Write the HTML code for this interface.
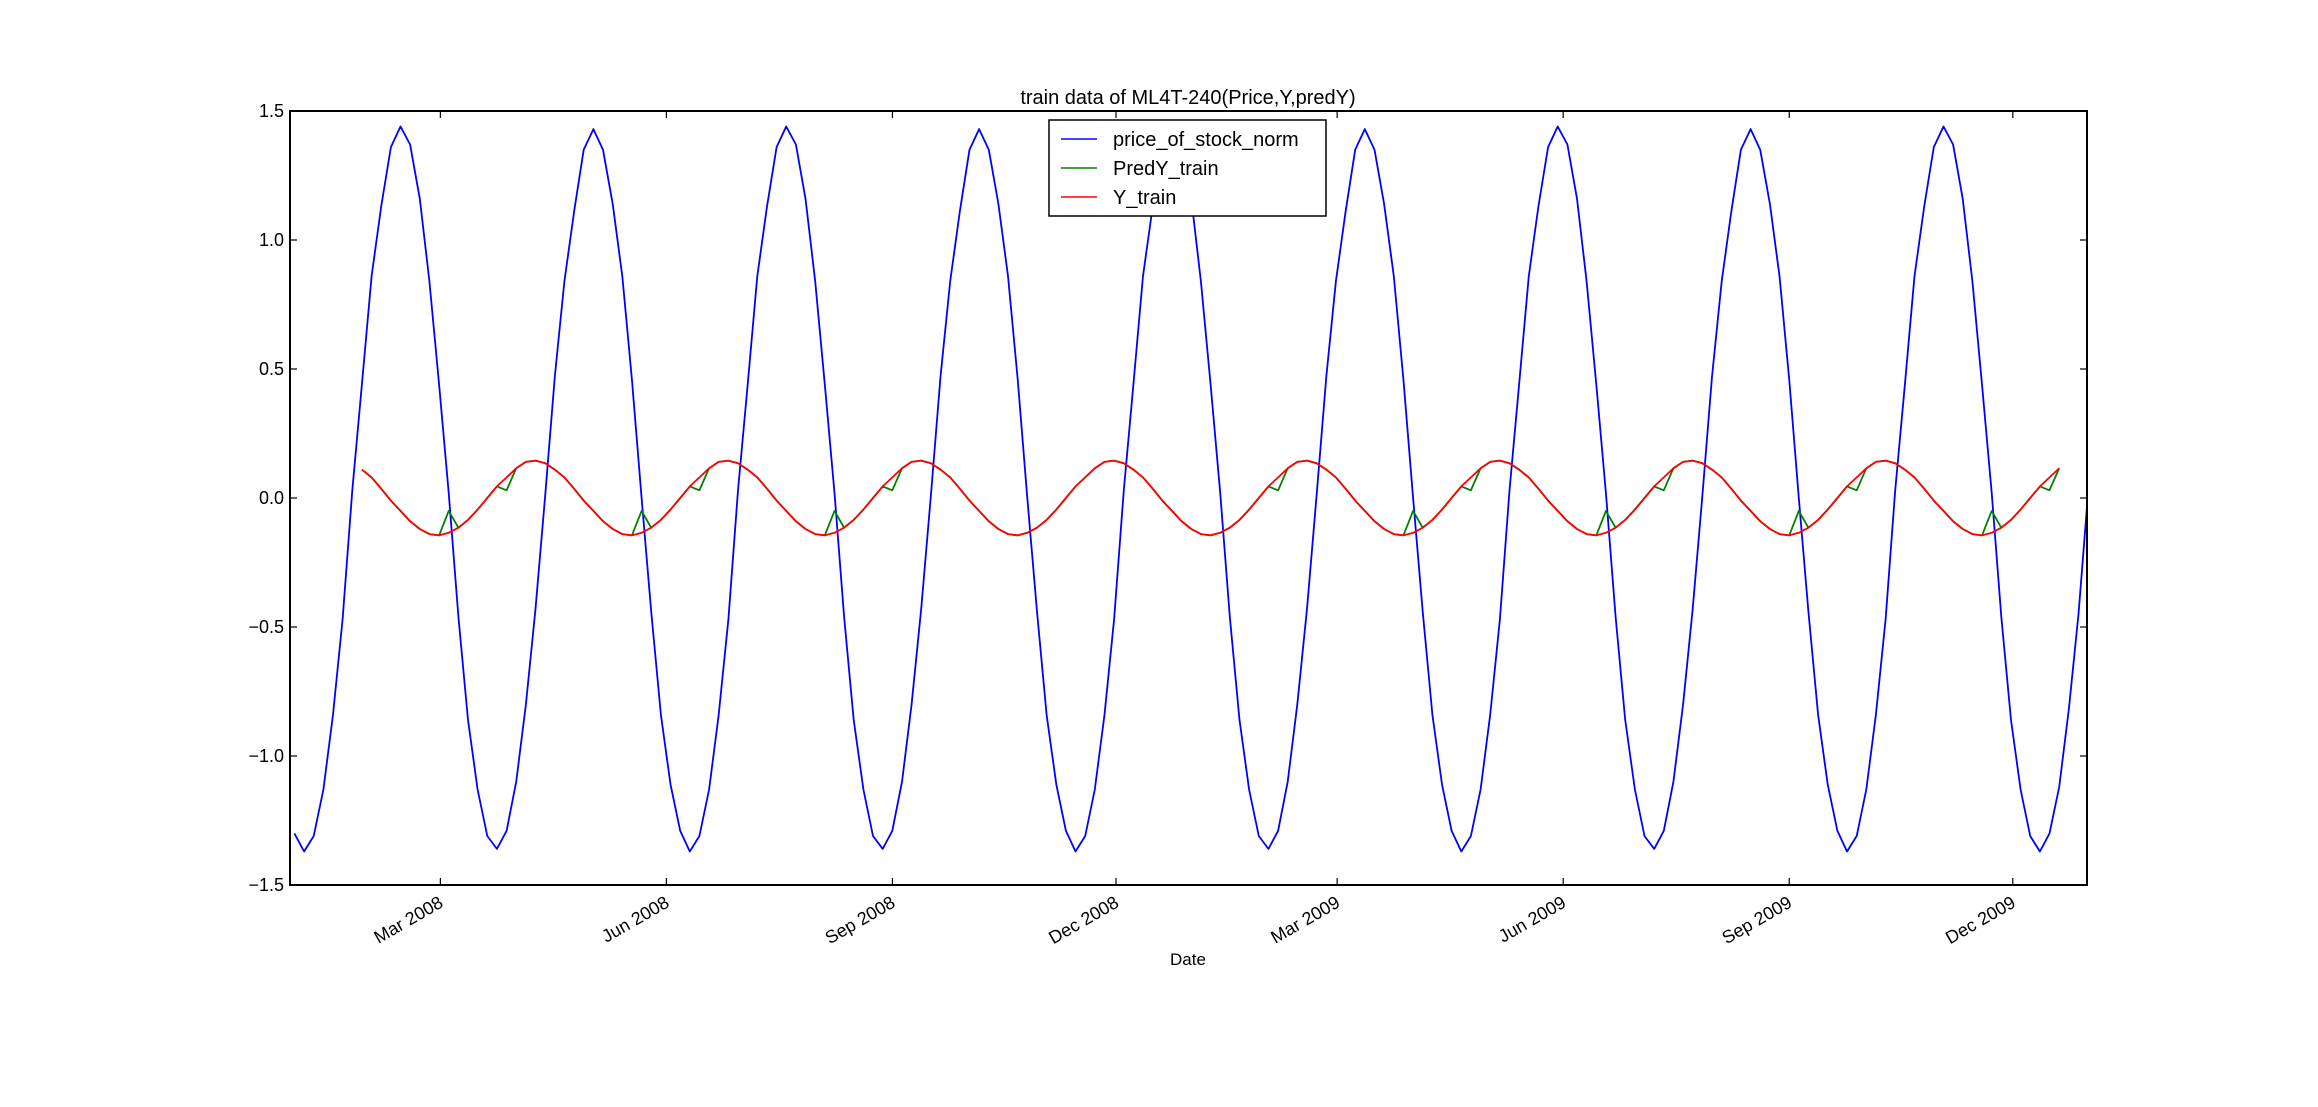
<!DOCTYPE html>
<html><head><meta charset="utf-8"><style>
html,body{margin:0;padding:0;background:#fff;}
svg{display:block;font-family:"Liberation Sans","DejaVu Sans",sans-serif;}
</style></head><body>
<svg id="chart" width="2318" height="1107" viewBox="0 0 2318 1107" xmlns="http://www.w3.org/2000/svg">
<rect x="0" y="0" width="2318" height="1107" fill="#fff"/>
<defs><clipPath id="plotclip"><rect x="290" y="111" width="1797" height="774"/></clipPath></defs>
<text x="1188" y="104" font-size="20" text-anchor="middle">train data of ML4T-240(Price,Y,predY)</text>
<g id="series" clip-path="url(#plotclip)"></g>
<rect x="290" y="111" width="1797" height="774" fill="none" stroke="#000" stroke-width="2"/>
<g id="axes"></g>
<text x="1188" y="965" font-size="17" text-anchor="middle">Date</text>
<g>
<rect x="1049" y="120" width="277" height="96" fill="#fff" stroke="#000" stroke-width="1.5"/>
<g><line x1="1061" y1="139" x2="1097" y2="139" stroke="#0000ff" stroke-width="1.6"/><text x="1113" y="146" font-size="20">price_of_stock_norm</text></g>
<g><line x1="1061" y1="168" x2="1097" y2="168" stroke="#008000" stroke-width="1.6"/><text x="1113" y="175" font-size="20">PredY_train</text></g>
<g><line x1="1061" y1="197" x2="1097" y2="197" stroke="#ff0000" stroke-width="1.6"/><text x="1113" y="204" font-size="20">Y_train</text></g>
</g>
</svg>
<script>
// data: values sampled every sampleStepDays starting at firstSampleDay (days since 2008-01-01)
const firstSampleDay = 0.6;
const sampleStepDays = 3.925;
const priceNorm = [-1.30,
-1.37,-1.31,-1.13,-0.84,-0.47,0.03,0.44,0.86,1.13,1.36,1.44,1.37,1.16,0.84,0.44,0.02,-0.46,-0.86,-1.13,-1.31,
-1.36,-1.29,-1.10,-0.80,-0.43,0.01,0.47,0.84,1.11,1.35,1.43,1.35,1.14,0.86,0.46,0.00,-0.44,-0.84,-1.11,-1.29,
-1.37,-1.31,-1.13,-0.84,-0.47,0.03,0.44,0.86,1.13,1.36,1.44,1.37,1.16,0.84,0.44,0.02,-0.46,-0.86,-1.13,-1.31,
-1.36,-1.29,-1.10,-0.80,-0.43,0.01,0.47,0.84,1.11,1.35,1.43,1.35,1.14,0.86,0.46,0.00,-0.44,-0.84,-1.11,-1.29,
-1.37,-1.31,-1.13,-0.84,-0.47,0.03,0.44,0.86,1.13,1.36,1.44,1.37,1.16,0.84,0.44,0.02,-0.46,-0.86,-1.13,-1.31,
-1.36,-1.29,-1.10,-0.80,-0.43,0.01,0.47,0.84,1.11,1.35,1.43,1.35,1.14,0.86,0.46,0.00,-0.44,-0.84,-1.11,-1.29,
-1.37,-1.31,-1.13,-0.84,-0.47,0.03,0.44,0.86,1.13,1.36,1.44,1.37,1.16,0.84,0.44,0.02,-0.46,-0.86,-1.13,-1.31,
-1.36,-1.29,-1.10,-0.80,-0.43,0.01,0.47,0.84,1.11,1.35,1.43,1.35,1.14,0.86,0.46,0.00,-0.44,-0.84,-1.11,-1.29,
-1.37,-1.31,-1.13,-0.84,-0.47,0.03,0.44,0.86,1.13,1.36,1.44,1.37,1.16,0.84,0.44,0.02,-0.46,-0.86,-1.13,-1.31,
-1.37,-1.30,-1.12,-0.82,-0.45,0.02];
const yStartIndex = 7;
const yTrain = [0.11,0.08,0.036,-0.01,-0.05,-0.09,-0.12,-0.14,-0.145,-0.135,-0.115,-0.085,-0.045,0.0,
0.045,0.08,0.115,0.14,0.145,0.135,0.11,0.08,0.036,-0.01,-0.05,-0.09,-0.12,-0.14,-0.145,-0.135,-0.115,-0.085,-0.045,0.0,
0.045,0.08,0.115,0.14,0.145,0.135,0.11,0.08,0.036,-0.01,-0.05,-0.09,-0.12,-0.14,-0.145,-0.135,-0.115,-0.085,-0.045,0.0,
0.045,0.08,0.115,0.14,0.145,0.135,0.11,0.08,0.036,-0.01,-0.05,-0.09,-0.12,-0.14,-0.145,-0.135,-0.115,-0.085,-0.045,0.0,
0.045,0.08,0.115,0.14,0.145,0.135,0.11,0.08,0.036,-0.01,-0.05,-0.09,-0.12,-0.14,-0.145,-0.135,-0.115,-0.085,-0.045,0.0,
0.045,0.08,0.115,0.14,0.145,0.135,0.11,0.08,0.036,-0.01,-0.05,-0.09,-0.12,-0.14,-0.145,-0.135,-0.115,-0.085,-0.045,0.0,
0.045,0.08,0.115,0.14,0.145,0.135,0.11,0.08,0.036,-0.01,-0.05,-0.09,-0.12,-0.14,-0.145,-0.135,-0.115,-0.085,-0.045,0.0,
0.045,0.08,0.115,0.14,0.145,0.135,0.11,0.08,0.036,-0.01,-0.05,-0.09,-0.12,-0.14,-0.145,-0.135,-0.115,-0.085,-0.045,0.0,
0.045,0.08,0.115,0.14,0.145,0.135,0.11,0.08,0.036,-0.01,-0.05,-0.09,-0.12,-0.14,-0.145,-0.135,-0.115,-0.085,-0.045,0.0,
0.045,0.08,0.115];
const predYTrain = [0.11,0.08,0.036,-0.01,-0.05,-0.09,-0.12,-0.14,-0.145,-0.05,-0.115,-0.085,-0.045,0.0,
0.045,0.03,0.115,0.14,0.145,0.135,0.11,0.08,0.036,-0.01,-0.05,-0.09,-0.12,-0.14,-0.145,-0.05,-0.115,-0.085,-0.045,0.0,
0.045,0.03,0.115,0.14,0.145,0.135,0.11,0.08,0.036,-0.01,-0.05,-0.09,-0.12,-0.14,-0.145,-0.05,-0.115,-0.085,-0.045,0.0,
0.045,0.03,0.115,0.14,0.145,0.135,0.11,0.08,0.036,-0.01,-0.05,-0.09,-0.12,-0.14,-0.145,-0.135,-0.115,-0.085,-0.045,0.0,
0.045,0.08,0.115,0.14,0.145,0.135,0.11,0.08,0.036,-0.01,-0.05,-0.09,-0.12,-0.14,-0.145,-0.135,-0.115,-0.085,-0.045,0.0,
0.045,0.03,0.115,0.14,0.145,0.135,0.11,0.08,0.036,-0.01,-0.05,-0.09,-0.12,-0.14,-0.145,-0.05,-0.115,-0.085,-0.045,0.0,
0.045,0.03,0.115,0.14,0.145,0.135,0.11,0.08,0.036,-0.01,-0.05,-0.09,-0.12,-0.14,-0.145,-0.05,-0.115,-0.085,-0.045,0.0,
0.045,0.03,0.115,0.14,0.145,0.135,0.11,0.08,0.036,-0.01,-0.05,-0.09,-0.12,-0.14,-0.145,-0.05,-0.115,-0.085,-0.045,0.0,
0.045,0.03,0.115,0.14,0.145,0.135,0.11,0.08,0.036,-0.01,-0.05,-0.09,-0.12,-0.14,-0.145,-0.05,-0.115,-0.085,-0.045,0.0,
0.045,0.03,0.115];
const xTickLabels = ["Mar 2008","Jun 2008","Sep 2008","Dec 2008","Mar 2009","Jun 2009","Sep 2009","Dec 2009"];
const xTickDays = [60,152,244,335,425,517,609,700];
const yTickValues = [-1.5,-1.0,-0.5,0.0,0.5,1.0,1.5];

const NS = "http://www.w3.org/2000/svg";
const PL=290, PR=2087, PT=111, PB=885;
const dayMin=-1.2, dayMax=730.2, yMin=-1.5, yMax=1.5;
function xs(d){return PL+(d-dayMin)/(dayMax-dayMin)*(PR-PL);}
function ys(v){return PB-(v-yMin)/(yMax-yMin)*(PB-PT);}
function mk(tag, attrs){const e=document.createElementNS(NS,tag);for(const k in attrs)e.setAttribute(k,attrs[k]);return e;}

const series=document.getElementById('series');
function line(vals, startIdx, color, name){
  const pts=vals.map((v,i)=>xs(firstSampleDay+(startIdx+i)*sampleStepDays).toFixed(1)+','+ys(v).toFixed(1)).join(' ');
  const p=mk('polyline',{points:pts,fill:'none',stroke:color,'stroke-width':'1.8','stroke-linejoin':'round'});
  
  
  series.appendChild(p);
}
line(priceNorm,0,'#0000ff','price-line');
line(predYTrain,yStartIndex,'#008000','predy-train-line');
line(yTrain,yStartIndex,'#ff0000','y-train-line');

const axes=document.getElementById('axes');
yTickValues.forEach(v=>{
  const y=ys(v);
  const t1=mk('line',{x1:PL,y1:y,x2:PL+7,y2:y,stroke:'#000','stroke-width':'1.2'});
  
  
  axes.appendChild(t1);
  const t2=mk('line',{x1:PR,y1:y,x2:PR-7,y2:y,stroke:'#000','stroke-width':'1.2'});
  
  
  axes.appendChild(t2);
  const lb=mk('text',{x:PL-6,y:y+6,'font-size':'18','text-anchor':'end'});
  lb.textContent=v.toFixed(1).replace('-','\u2212');
  
  
  axes.appendChild(lb);
});
xTickDays.forEach((d,i)=>{
  const x=xs(d);
  const t1=mk('line',{x1:x,y1:PB,x2:x,y2:PB-7,stroke:'#000','stroke-width':'1.2'});
  
  
  axes.appendChild(t1);
  const t2=mk('line',{x1:x,y1:PT,x2:x,y2:PT+7,stroke:'#000','stroke-width':'1.2'});
  
  
  axes.appendChild(t2);
  const lb=mk('text',{x:x,y:PB+22,'font-size':'18','text-anchor':'end',transform:'rotate(-30 '+x+' '+(PB+14)+')'});
  lb.textContent=xTickLabels[i];
  
  
  axes.appendChild(lb);
});
</script>
</body></html>
